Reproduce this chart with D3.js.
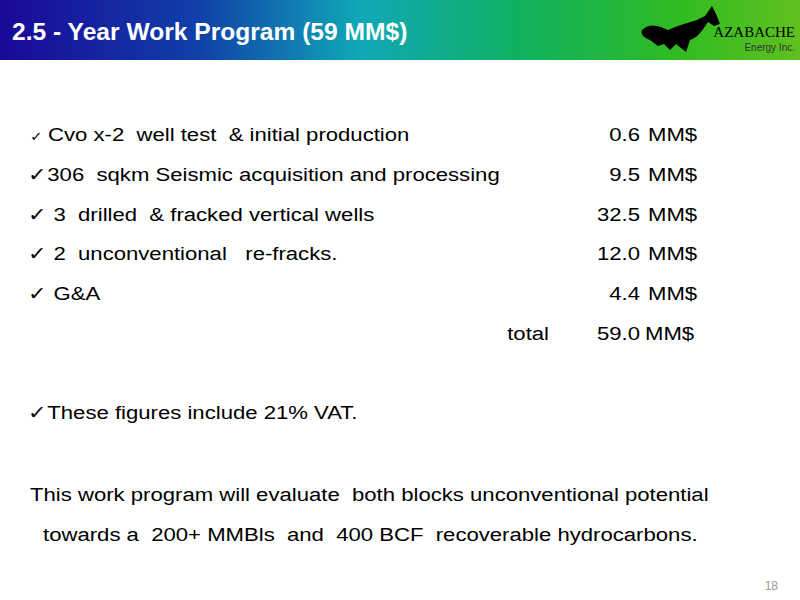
<!DOCTYPE html><html><head><script src="https://cdn.jsdelivr.net/npm/d3@7"></script>
<style>body{margin:0}svg{font-family:"Liberation Sans",Arial,sans-serif}</style></head><body><svg width="800" height="600"></svg>
<script>
const items=["Cvo x-2  well test  & initial production","306  sqkm Seismic acquisition and processing"," 3  drilled  & fracked vertical wells"," 2  unconventional   re-fracks."," G&A"];
const values=[0.6,9.5,32.5,12.0,4.4];
const total=59.0;
const SX=1.165;
const svg=d3.select("svg");
const defs=svg.append("defs");
const g=defs.append("linearGradient").attr("id","hg");
[["0%","#1a0898"],["25%","#1040a8"],["45%","#10a8b8"],["65%","#10b060"],["85%","#30bc20"],["100%","#60c020"]].forEach(s=>g.append("stop").attr("offset",s[0]).attr("stop-color",s[1]));
svg.append("rect").attr("width",800).attr("height",600).attr("fill","#fff");
svg.append("rect").attr("width",800).attr("height",60).attr("fill","url(#hg)");
svg.append("text").attr("transform","translate(12,40) scale(1.07,1)").attr("fill","#fff").attr("font-size",23).attr("font-weight","bold").text("2.5 - Year Work Program (59 MM$)");
svg.append("path").attr("d","M642,30 C650,22 660,26 668,30 C680,24 695,22 705,16 L712,6 L716,14 L720,24 L714,26 L708,22 C702,30 700,36 690,40 L686,52 L676,44 L670,50 L664,44 L658,46 L650,40 C646,38 640,36 642,30Z").attr("fill","#000");
svg.append("text").attr("x",795).attr("y",37).attr("text-anchor","end").attr("font-family","Liberation Serif").attr("font-size",15).attr("fill","#000").text("AZABACHE");
svg.append("text").attr("x",795).attr("y",51).attr("text-anchor","end").attr("font-size",10).attr("fill","#333").text("Energy Inc.");
function T(x,y,s,anchor,size){return svg.append("text").attr("transform",`translate(${x},${y}) scale(${SX},1)`).attr("text-anchor",anchor||"start").attr("font-size",size||19).style("white-space","pre").text(s);}
const y=d3.scalePoint().domain(d3.range(6)).range([141,340]);
items.forEach((t,i)=>{
 if(i==0){T(30,y(i),"✓","start",13);T(48,y(i),t);}
 else T(28,y(i),"✓"+t);
 T(640,y(i),values[i].toFixed(1),"end");
 T(648,y(i),"MM$");
});
T(549,y(5),"total","end");
T(640,y(5),total.toFixed(1),"end");
T(645,y(5),"MM$");
T(28,419,"✓These figures include 21% VAT.");
T(30,501,"This work program will evaluate  both blocks unconventional potential");
T(43,541,"towards a  200+ MMBls  and  400 BCF  recoverable hydrocarbons.");
svg.append("text").attr("x",778).attr("y",590).attr("text-anchor","end").attr("font-size",12).attr("fill","#999").text("18");
</script></body></html>
